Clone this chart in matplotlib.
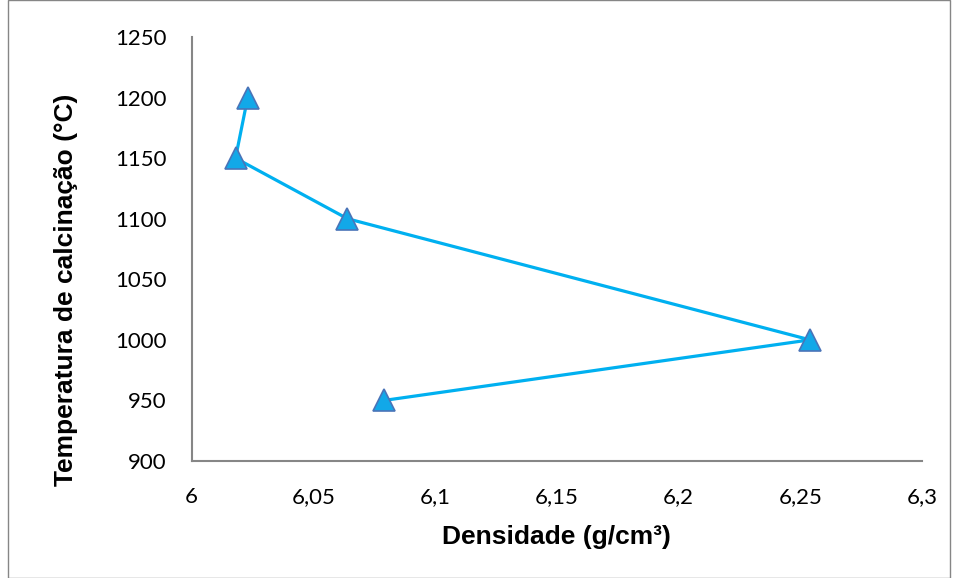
import matplotlib
matplotlib.use("Agg")
import matplotlib.pyplot as plt
from matplotlib.patches import Rectangle

densidade = [6.079, 6.254, 6.064, 6.018, 6.023]
temperatura = [950, 1000, 1100, 1150, 1200]
xticks = [6.0, 6.05, 6.1, 6.15, 6.2, 6.25, 6.3]
xticklabels = ["6", "6,05", "6,1", "6,15", "6,2", "6,25", "6,3"]
yticks = [900, 950, 1000, 1050, 1100, 1150, 1200, 1250]

fig = plt.figure(figsize=(9.58, 5.78), dpi=100)
ax = fig.add_axes([0.2001, 0.2024, 0.7623, 0.7336])

ax.plot(densidade, temperatura, color="#00B0F0", lw=2.3, marker="^",
        markersize=16, markerfacecolor="#12A8E8", markeredgecolor="#4A74B8",
        markeredgewidth=1.2, clip_on=False, zorder=3)

ax.set_xlim(6.0, 6.3)
ax.set_ylim(900, 1250)
ax.set_xticks(xticks)
ax.set_xticklabels(xticklabels)
ax.set_yticks(yticks)
for s in ["top", "right"]:
    ax.spines[s].set_visible(False)
for s in ["left", "bottom"]:
    ax.spines[s].set_color("#868686")
    ax.spines[s].set_linewidth(1.5)
ax.tick_params(length=0, labelsize=16)
for lab in ax.get_xticklabels() + ax.get_yticklabels():
    lab.set_fontfamily("Lato")
ax.tick_params(axis="x", pad=19)
ax.tick_params(axis="y", pad=18)

ax.set_xlabel("Densidade (g/cm³)", fontsize=19, fontweight="bold",
              family="Liberation Sans", va="center", ha="center")
ax.xaxis.set_label_coords(0.5, -0.179)
ax.set_ylabel("Temperatura de calcinação (°C)", fontsize=19, fontweight="bold",
              family="Liberation Sans", va="center", ha="center")
ax.yaxis.set_label_coords(-0.172, 0.403)

fig.patches.append(Rectangle((8/958, 0), 942/958, 1.0, transform=fig.transFigure,
                             fill=False, edgecolor="#868686", lw=1.0))

fig.savefig("out.png", dpi=100)
